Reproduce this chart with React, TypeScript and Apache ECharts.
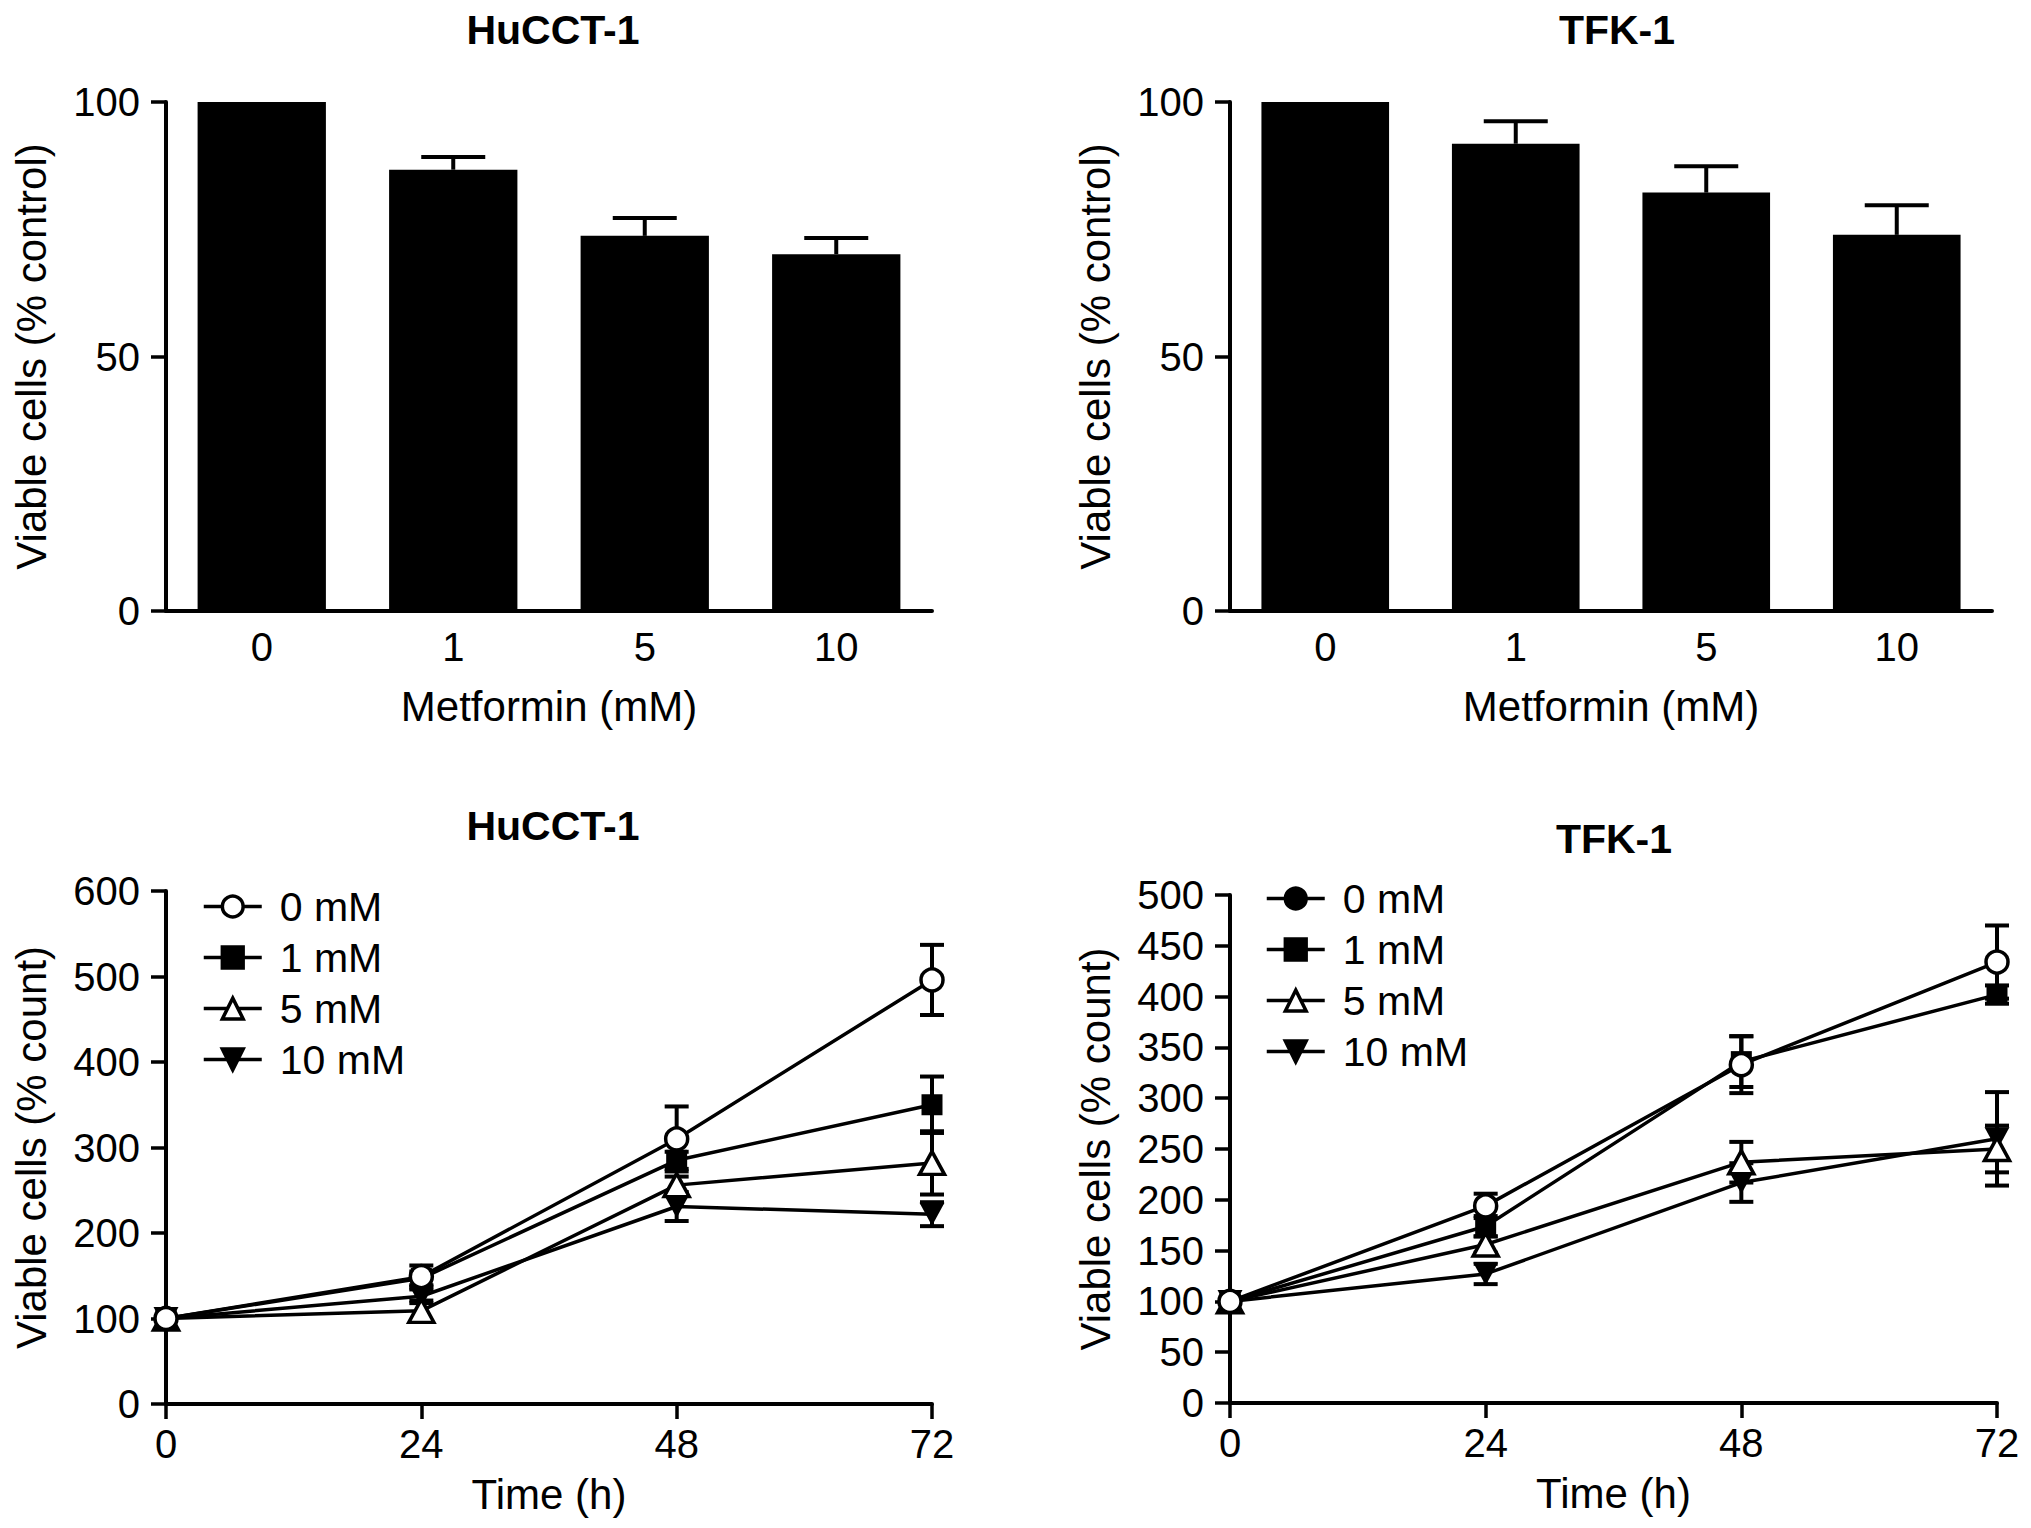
import React, { useEffect, useRef } from "react";
import * as echarts from "echarts";

// ---------- data ----------
const doseCategories = ["0", "1", "5", "10"];
const hucctViability = [100, 86.7, 73.7, 70.1];
const hucctViabilityErr = [0, 2.5, 3.5, 3.2];
const tfkViability = [100, 91.8, 82.2, 73.9];
const tfkViabilityErr = [0, 4.4, 5.2, 5.8];

const timePoints = [0, 24, 48, 72];
const doseNames = ["0 mM", "1 mM", "5 mM", "10 mM"];

const hucct0 = [100, 149, 310, 496];
const hucct0Err = [0, 13, 38, 41];
const hucct1 = [100, 147, 285, 350];
const hucct1Err = [0, 8, 10, 33];
const hucct5 = [100, 109, 256, 282];
const hucct5Err = [0, 12, 10, 37];
const hucct10 = [100, 126, 231, 222];
const hucct10Err = [0, 8, 17, 14];

const tfk0 = [100, 194, 333, 434];
const tfk0Err = [0, 12, 28, 36];
const tfk1 = [100, 174, 336, 402];
const tfk1Err = [0, 10, 25, 9];
const tfk5 = [100, 156, 237, 250];
const tfk5Err = [0, 8, 20, 23];
const tfk10 = [100, 127, 217, 260];
const tfk10Err = [0, 10, 19, 46];

const hucctLines = [hucct0, hucct1, hucct5, hucct10];
const hucctLineErrs = [hucct0Err, hucct1Err, hucct5Err, hucct10Err];
const tfkLines = [tfk0, tfk1, tfk5, tfk10];
const tfkLineErrs = [tfk0Err, tfk1Err, tfk5Err, tfk10Err];

// ---------- styles ----------
const FONT = "'Liberation Sans', Arial, Helvetica, sans-serif";
const BLACK = "#000";
const TICK_FS = 40;
const NAME_FS = 42;

const markerStyles: any[] = [
  { symbol: "circle", symbolSize: 22, itemStyle: { color: "#fff", borderColor: BLACK, borderWidth: 3.5 } },
  { symbol: "rect", symbolSize: 21, itemStyle: { color: BLACK, borderColor: BLACK, borderWidth: 0 } },
  { symbol: "triangle", symbolSize: [25, 23], itemStyle: { color: "#fff", borderColor: BLACK, borderWidth: 3.5 } },
  { symbol: "triangle", symbolRotate: 180, symbolSize: [25, 23], itemStyle: { color: BLACK, borderColor: BLACK, borderWidth: 0 } },
];

const tickText = { color: BLACK, fontFamily: FONT, fontSize: TICK_FS };
const nameText = { color: BLACK, fontFamily: FONT, fontSize: NAME_FS };

function barAxes(gridIndex: number) {
  return {
    x: {
      type: "category",
      gridIndex,
      data: doseCategories,
      axisLine: { lineStyle: { color: BLACK, width: 4 } },
      axisTick: { show: false },
      axisLabel: { ...tickText, margin: 16 },
      splitLine: { show: false },
      name: "Metformin (mM)",
      nameLocation: "middle",
      nameGap: 74,
      nameTextStyle: { ...nameText },
    },
    y: {
      type: "value",
      gridIndex,
      min: 0,
      max: 100,
      interval: 50,
      axisLine: { show: true, lineStyle: { color: BLACK, width: 4 } },
      axisTick: { show: true, length: 15, lineStyle: { color: BLACK, width: 3.5 } },
      axisLabel: { ...tickText, margin: 26 },
      splitLine: { show: false },
      name: "Viable cells (% control)",
      nameLocation: "middle",
      nameGap: 114,
      nameTextStyle: { ...nameText },
    },
  };
}

function lineAxes(gridIndex: number, yMax: number, yInterval: number) {
  return {
    x: {
      type: "value",
      gridIndex,
      min: 0,
      max: 72,
      interval: 24,
      axisLine: { show: true, lineStyle: { color: BLACK, width: 4 } },
      axisTick: { show: true, length: 15, lineStyle: { color: BLACK, width: 3.5 } },
      axisLabel: { ...tickText, margin: 20 },
      splitLine: { show: false },
      name: "Time (h)",
      nameLocation: "middle",
      nameGap: 69,
      nameTextStyle: { ...nameText },
    },
    y: {
      type: "value",
      gridIndex,
      min: 0,
      max: yMax,
      interval: yInterval,
      axisLine: { show: true, lineStyle: { color: BLACK, width: 4 } },
      axisTick: { show: true, length: 15, lineStyle: { color: BLACK, width: 3.5 } },
      axisLabel: { ...tickText, margin: 26 },
      splitLine: { show: false },
      name: "Viable cells (% count)",
      nameLocation: "middle",
      nameGap: 114,
      nameTextStyle: { ...nameText },
    },
  };
}

function barErrorSeries(axisIndex: number, values: number[], errs: number[]) {
  return {
    type: "custom",
    xAxisIndex: axisIndex,
    yAxisIndex: axisIndex,
    z: 5,
    silent: true,
    data: values.map((v, i) => [i, v, errs[i]]).filter((d) => d[2] > 0),
    renderItem: (params: any, api: any) => {
      const i = api.value(0);
      const v = api.value(1);
      const e = api.value(2);
      const base = api.coord([i, v]);
      const top = api.coord([i, v + e]);
      const hw = 32;
      const st = { stroke: BLACK, lineWidth: 4 };
      return {
        type: "group",
        children: [
          { type: "line", shape: { x1: base[0], y1: base[1], x2: top[0], y2: top[1] }, style: st },
          { type: "line", shape: { x1: top[0] - hw, y1: top[1], x2: top[0] + hw, y2: top[1] }, style: st },
        ],
      };
    },
  };
}

function lineErrorSeries(axisIndex: number, values: number[], errs: number[]) {
  return {
    type: "custom",
    xAxisIndex: axisIndex,
    yAxisIndex: axisIndex,
    z: 1,
    silent: true,
    data: values.map((v, i) => [timePoints[i], v, errs[i]]).filter((d) => d[2] > 0),
    renderItem: (params: any, api: any) => {
      const t = api.value(0);
      const v = api.value(1);
      const e = api.value(2);
      const hi = api.coord([t, v + e]);
      const lo = api.coord([t, v - e]);
      const hw = 12;
      const st = { stroke: BLACK, lineWidth: 4 };
      return {
        type: "group",
        children: [
          { type: "line", shape: { x1: hi[0], y1: hi[1], x2: lo[0], y2: lo[1] }, style: st },
          { type: "line", shape: { x1: hi[0] - hw, y1: hi[1], x2: hi[0] + hw, y2: hi[1] }, style: st },
          { type: "line", shape: { x1: lo[0] - hw, y1: lo[1], x2: lo[0] + hw, y2: lo[1] }, style: st },
        ],
      };
    },
  };
}

function lineSeries(axisIndex: number, lines: number[][], idx: number) {
  const m = markerStyles[idx];
  return {
    type: "line",
    name: doseNames[idx],
    xAxisIndex: axisIndex,
    yAxisIndex: axisIndex,
    z: idx === 0 ? 4 : 3,
    data: timePoints.map((t, i) => [t, lines[idx][i]]),
    symbol: m.symbol,
    symbolSize: m.symbolSize,
    symbolRotate: m.symbolRotate || 0,
    showAllSymbol: true,
    itemStyle: m.itemStyle,
    lineStyle: { color: BLACK, width: 3.5 },
    emphasis: { disabled: true },
  };
}

export default function App() {
  const ref = useRef<HTMLDivElement>(null);

  useEffect(() => {
    if (!ref.current) return;
    const chart = echarts.init(ref.current, undefined, { renderer: "svg" });

    const a0 = barAxes(0);
    const a1 = barAxes(1);
    const a2 = lineAxes(2, 600, 100);
    const a3 = lineAxes(3, 500, 50);

    const drawOrder = [3, 2, 1, 0];
    const series: any[] = [
      {
        type: "bar",
        xAxisIndex: 0,
        yAxisIndex: 0,
        data: hucctViability,
        barWidth: "67%",
        itemStyle: { color: BLACK },
        silent: true,
      },
      barErrorSeries(0, hucctViability, hucctViabilityErr),
      {
        type: "bar",
        xAxisIndex: 1,
        yAxisIndex: 1,
        data: tfkViability,
        barWidth: "67%",
        itemStyle: { color: BLACK },
        silent: true,
      },
      barErrorSeries(1, tfkViability, tfkViabilityErr),
    ];
    drawOrder.forEach((k) => series.push(lineErrorSeries(2, hucctLines[k], hucctLineErrs[k])));
    drawOrder.forEach((k) => series.push(lineErrorSeries(3, tfkLines[k], tfkLineErrs[k])));
    drawOrder.forEach((k) => series.push(lineSeries(2, hucctLines, k)));
    drawOrder.forEach((k) => series.push(lineSeries(3, tfkLines, k)));

    const legendBase = {
      orient: "vertical",
      itemWidth: 58,
      itemHeight: 26,
      itemGap: 10,
      selectedMode: false,
      padding: 0,
      textStyle: { color: BLACK, fontFamily: FONT, fontSize: 41, padding: [0, 0, 0, 13] },
      itemStyle: { borderWidth: 3.5 },
      lineStyle: { width: 3.5, color: BLACK },
    };

    const titleBase = {
      textAlign: "center",
      textVerticalAlign: "middle",
      padding: 0,
      textStyle: { color: BLACK, fontFamily: FONT, fontSize: 41, fontWeight: "bold" },
    };

    chart.setOption({
      animation: false,
      backgroundColor: "#fff",
      title: [
        { ...titleBase, text: "HuCCT-1", left: 553, top: 30 },
        { ...titleBase, text: "TFK-1", left: 1617, top: 30 },
        { ...titleBase, text: "HuCCT-1", left: 553, top: 826 },
        { ...titleBase, text: "TFK-1", left: 1614, top: 839 },
      ],
      grid: [
        { left: 166, top: 102, width: 766, height: 509 },
        { left: 1230, top: 102, width: 762, height: 509 },
        { left: 166, top: 891, width: 766, height: 513 },
        { left: 1230, top: 895, width: 767, height: 508 },
      ],
      xAxis: [a0.x, a1.x, a2.x, a3.x],
      yAxis: [a0.y, a1.y, a2.y, a3.y],
      legend: [
        { ...legendBase, left: 202, top: 886, data: doseNames },
        {
          ...legendBase,
          left: 1265,
          top: 878,
          data: doseNames.map((n, i) => (i === 0 ? { name: n, itemStyle: { color: BLACK } } : n)),
        },
      ],
      series,
    });

    return () => chart.dispose();
  }, []);

  return (
    <div
      ref={ref}
      style={{ position: "absolute", left: 0, top: 0, width: 2031, height: 1528, background: "#fff" }}
    />
  );
}
